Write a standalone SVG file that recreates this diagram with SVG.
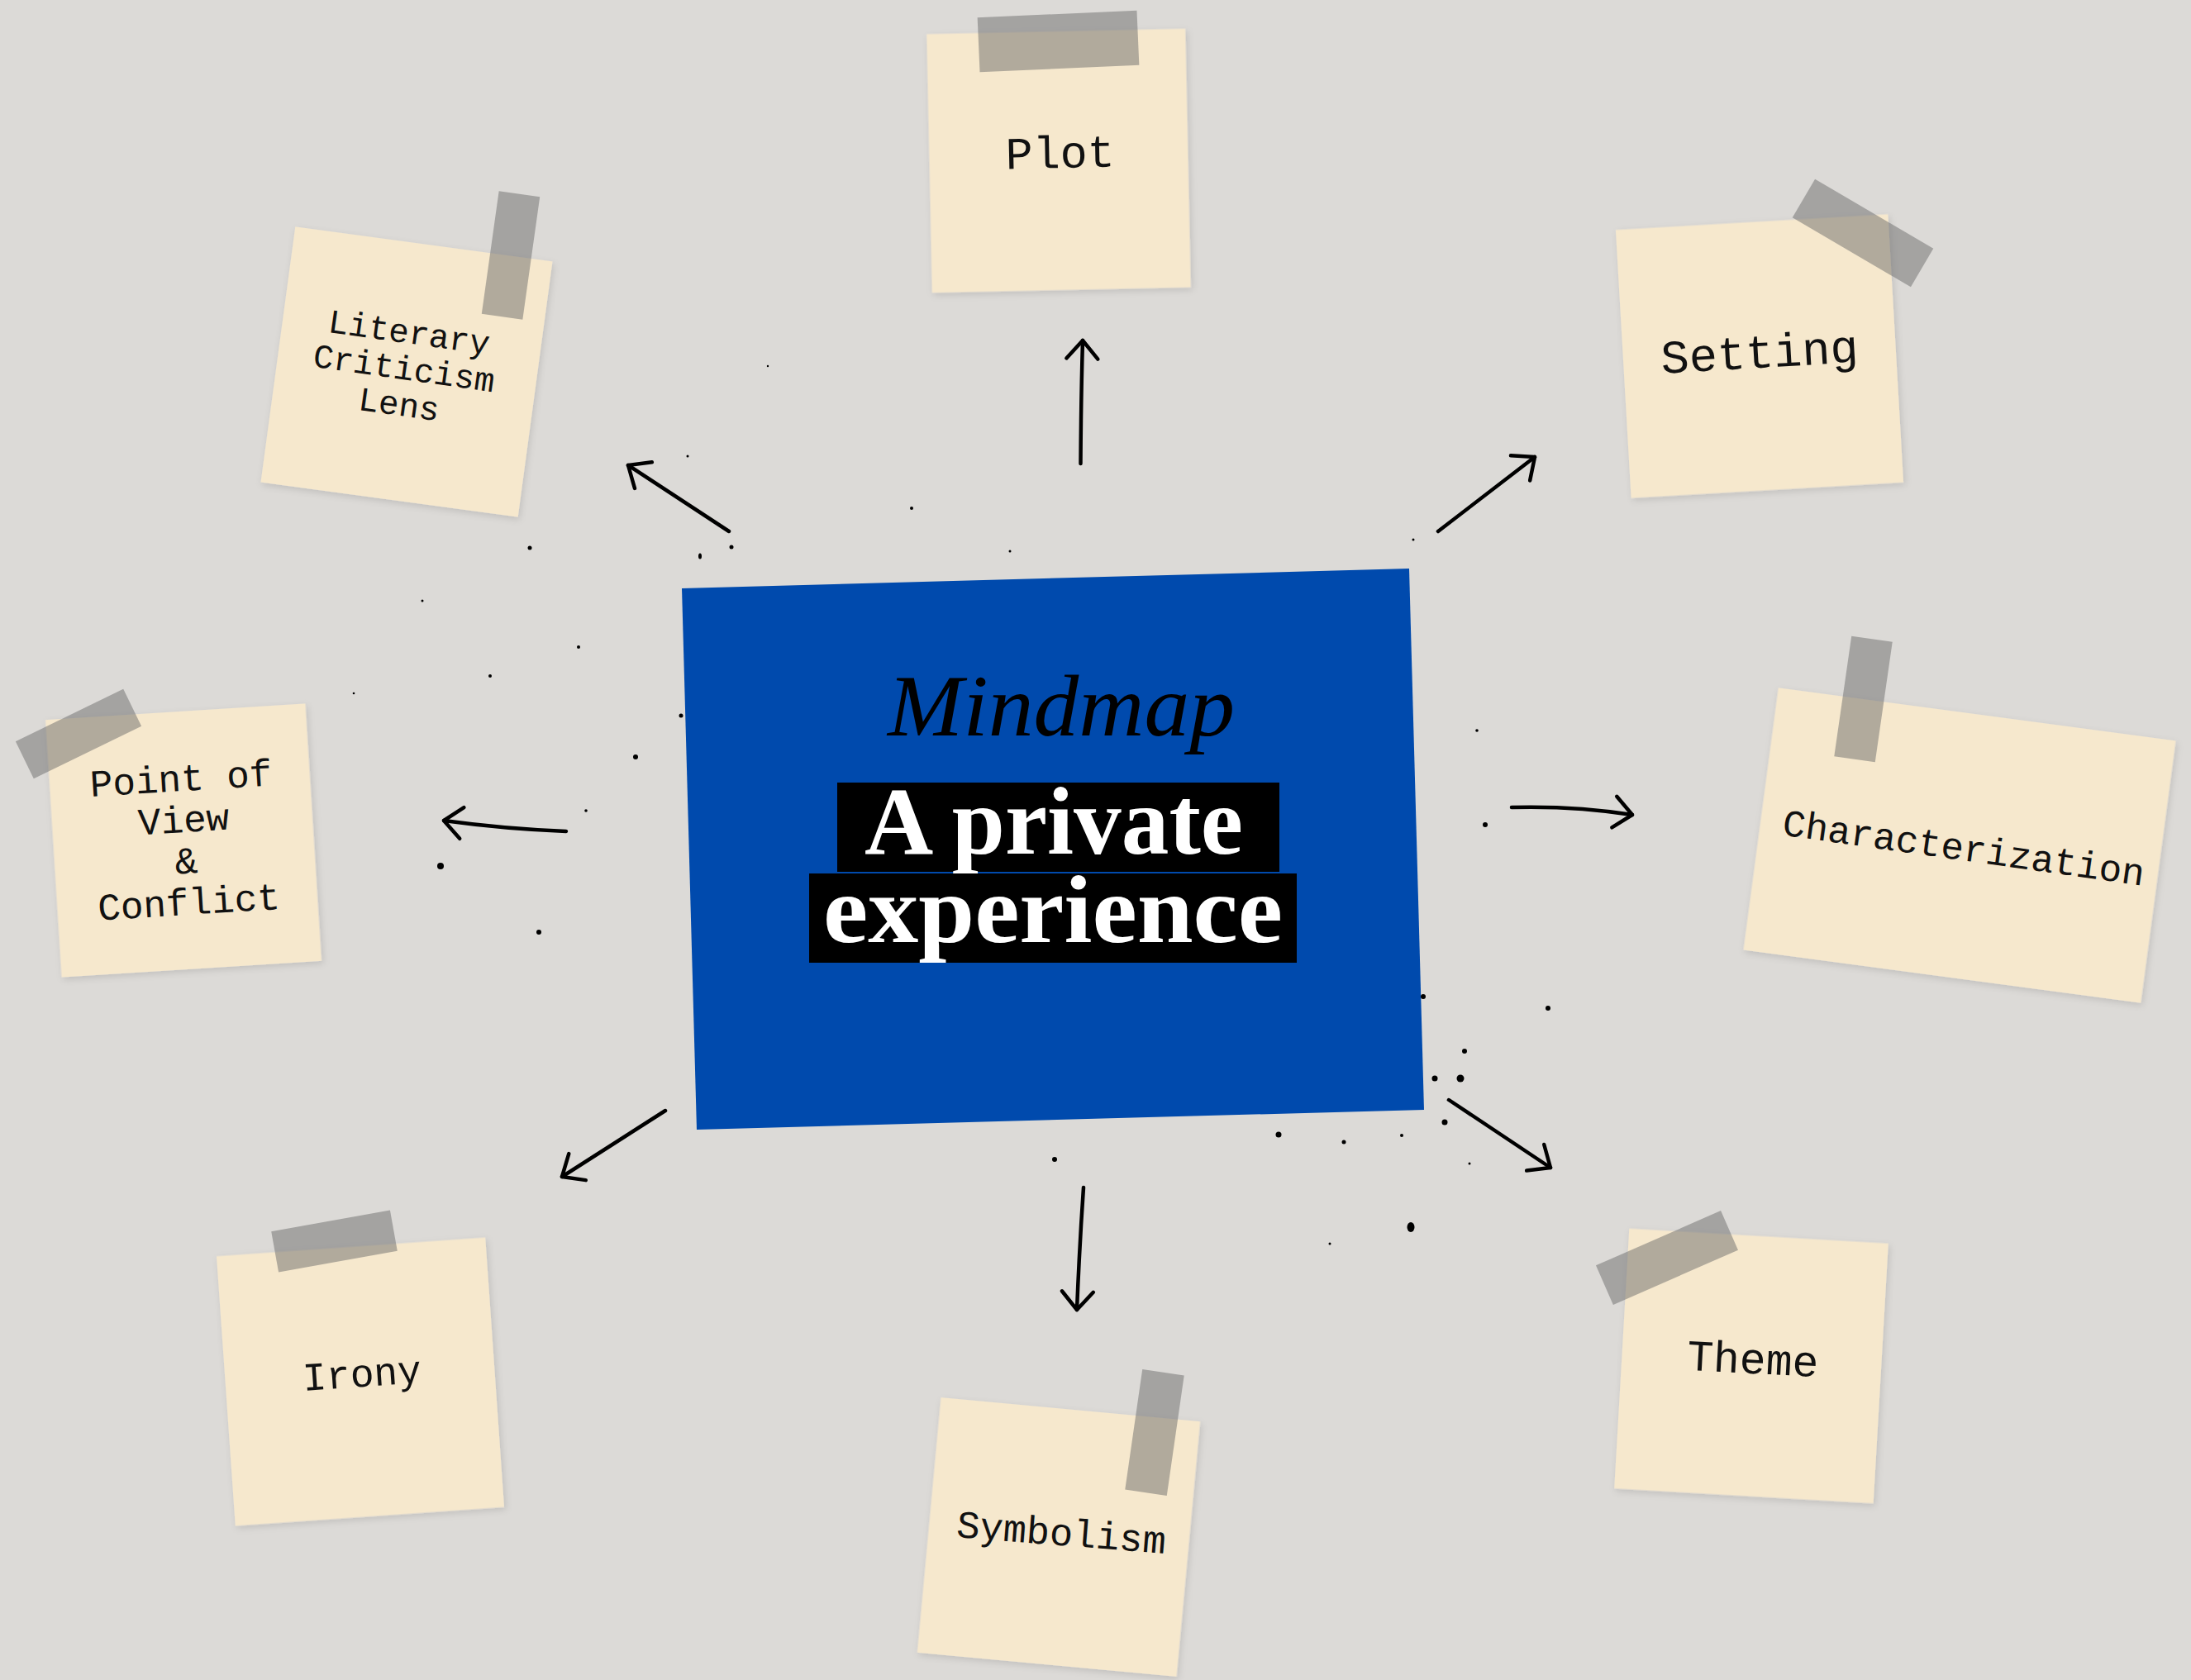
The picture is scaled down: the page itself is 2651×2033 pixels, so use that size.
<svg xmlns="http://www.w3.org/2000/svg" width="2651" height="2033" viewBox="0 0 2651 2033">
<style>
.bg{fill:#dcdad7}
.note{fill:#f6e8cd;filter:url(#sh)}
.tape{fill:#6b6b6b;fill-opacity:.5}
.lbl{font-family:"Liberation Mono","Courier New",monospace;fill:#111;text-anchor:middle}
.arrow{fill:none;stroke:#000;stroke-width:4.5;stroke-linecap:round;stroke-linejoin:round;marker-end:url(#head)}
.dot{fill:#000}
.title{font-family:"Liberation Serif","Times New Roman",serif;font-weight:bold;fill:#fff;text-anchor:middle}
</style>
<defs>
<filter id="sh" x="-10%" y="-10%" width="120%" height="120%">
<feDropShadow dx="2" dy="3" stdDeviation="4" flood-color="#000" flood-opacity="0.12"/>
</filter>
<marker id="head" markerUnits="userSpaceOnUse" viewBox="-28 -24 32 48" refX="0" refY="0" markerWidth="32" markerHeight="48" orient="auto" overflow="visible">
<path d="M -22 -19 L 0 0 L -22 19" fill="none" stroke="#000" stroke-width="4.5" stroke-linecap="round" stroke-linejoin="round"/>
</marker>
</defs>
<rect class="bg" x="0" y="0" width="2651" height="2033"/>

<g id="center">
<polygon fill="#004aad" points="825,712 1705,688 1723,1343 843,1367"/>
<text x="1284" y="890" font-family="Liberation Serif, serif" font-style="italic" font-size="105" fill="#000" text-anchor="middle" textLength="420" lengthAdjust="spacingAndGlyphs">Mindmap</text>
<rect x="1013" y="947" width="535" height="108" fill="#000"/>
<text class="title" x="1275" y="1033" font-size="117" textLength="458" lengthAdjust="spacingAndGlyphs">A private</text>
<rect x="979" y="1057" width="590" height="108" fill="#000"/>
<text class="title" x="1274" y="1140" font-size="117" textLength="556" lengthAdjust="spacingAndGlyphs">experience</text>
</g>

<g id="plot">
<rect class="note" x="-156.5" y="-156.5" width="313" height="313" transform="translate(1281 194.5) rotate(-1.2)"/>
<rect class="tape" x="-96" y="-33" width="193" height="66" transform="translate(1280 50) rotate(-2.5)"/>
<text class="lbl" font-size="55" transform="translate(1283 203) rotate(-1.2)">Plot</text>
</g>

<g id="literary">
<rect class="note" x="-157" y="-156" width="314" height="312" transform="translate(492 450) rotate(7.7)"/>
<rect class="tape" x="-25" y="-75" width="50" height="150" transform="translate(618 309) rotate(8)"/>
<g transform="translate(488 452) rotate(8)">
<text class="lbl" font-size="41" x="0" y="-37">Literary</text>
<text class="lbl" font-size="41" x="0" y="7">Criticism</text>
<text class="lbl" font-size="41" x="0" y="51">Lens</text>
</g>
</g>

<g id="setting">
<rect class="note" x="-165" y="-162.5" width="330" height="325" transform="translate(2129 431) rotate(-3.3)"/>
<rect class="tape" x="-83" y="-27" width="166" height="54" transform="translate(2254 282) rotate(30.4)"/>
<text class="lbl" font-size="57" transform="translate(2130 445) rotate(-3.3)">Setting</text>
</g>

<g id="characterization">
<rect class="note" x="-242.5" y="-160" width="485" height="320" transform="translate(2371 1023) rotate(7.6)"/>
<rect class="tape" x="-25" y="-73.5" width="50" height="147" transform="translate(2254.5 846) rotate(8.2)"/>
<text class="lbl" font-size="46" transform="translate(2374 1041) rotate(8)">Characterization</text>
</g>

<g id="point-of-view">
<rect class="note" x="-157.5" y="-156" width="315" height="312" transform="translate(222 1017) rotate(-3.6)"/>
<rect class="tape" x="-72.5" y="-25" width="145" height="50" transform="translate(95 888) rotate(-26)"/>
<g transform="translate(224 1022) rotate(-3.6)">
<text class="lbl" font-size="46" x="0" y="-65">Point of</text>
<text class="lbl" font-size="46" x="0" y="-15">View</text>
<text class="lbl" font-size="46" x="0" y="35">&amp;</text>
<text class="lbl" font-size="46" x="0" y="85">Conflict</text>
</g>
</g>

<g id="irony">
<rect class="note" x="-163" y="-163.5" width="326" height="327" transform="translate(436 1672) rotate(-4)"/>
<rect class="tape" x="-73" y="-25" width="146" height="50" transform="translate(404.5 1502) rotate(-10.2)"/>
<text class="lbl" font-size="48" transform="translate(439 1678) rotate(-4)">Irony</text>
</g>

<g id="symbolism">
<rect class="note" x="-157.5" y="-155" width="315" height="310" transform="translate(1281 1860) rotate(5.3)"/>
<rect class="tape" x="-25.5" y="-73.5" width="51" height="147" transform="translate(1397 1733.5) rotate(8.2)"/>
<text class="lbl" font-size="47" transform="translate(1283 1870) rotate(4.5)">Symbolism</text>
</g>

<g id="theme">
<rect class="note" x="-157" y="-157.5" width="314" height="315" transform="translate(2119 1653) rotate(3.3)"/>
<rect class="tape" x="-82.5" y="-26" width="165" height="52" transform="translate(2017 1522) rotate(-23.7)"/>
<text class="lbl" font-size="53" transform="translate(2120 1662) rotate(3)">Theme</text>
</g>

<g id="connectors">
<path class="arrow" d="M 1307.5 561 Q 1308 480 1310 412"/>
<path class="arrow" d="M 882 643 L 760 563"/>
<path class="arrow" d="M 1740 643 L 1857 553"/>
<path class="arrow" d="M 1829 977 Q 1905 975 1975 986"/>
<path class="arrow" d="M 685 1006 Q 610 1003 537 993"/>
<path class="arrow" d="M 805 1344 L 680 1424"/>
<path class="arrow" d="M 1311 1437 Q 1306 1510 1303 1585"/>
<path class="arrow" d="M 1753 1331 L 1876 1413"/>
</g>

<g id="splatter">
<circle class="dot" cx="929" cy="443" r="1.2"/>
<circle class="dot" cx="832" cy="552" r="1.5"/>
<circle class="dot" cx="1103" cy="615" r="2"/>
<circle class="dot" cx="885" cy="662" r="2.5"/>
<ellipse class="dot" cx="847" cy="673" rx="2" ry="3.5"/>
<circle class="dot" cx="641" cy="663" r="2.5"/>
<circle class="dot" cx="1222" cy="667" r="1.5"/>
<circle class="dot" cx="1710" cy="653" r="1.5"/>
<circle class="dot" cx="511" cy="727" r="1.5"/>
<circle class="dot" cx="700" cy="783" r="2"/>
<circle class="dot" cx="593" cy="818" r="2"/>
<circle class="dot" cx="428" cy="839" r="1.3"/>
<circle class="dot" cx="824" cy="866" r="2.5"/>
<circle class="dot" cx="769" cy="916" r="3"/>
<circle class="dot" cx="709" cy="981" r="1.8"/>
<circle class="dot" cx="1787" cy="884" r="1.8"/>
<circle class="dot" cx="1797" cy="998" r="3"/>
<circle class="dot" cx="533" cy="1048" r="4"/>
<circle class="dot" cx="652" cy="1128" r="3"/>
<circle class="dot" cx="1722" cy="1206" r="3"/>
<circle class="dot" cx="1873" cy="1220" r="3"/>
<circle class="dot" cx="1772" cy="1272" r="3"/>
<circle class="dot" cx="1736" cy="1305" r="3.5"/>
<circle class="dot" cx="1767" cy="1305" r="4.5"/>
<circle class="dot" cx="1748" cy="1358" r="3.5"/>
<circle class="dot" cx="1547" cy="1373" r="3.5"/>
<circle class="dot" cx="1626" cy="1382" r="2.5"/>
<circle class="dot" cx="1696" cy="1374" r="2"/>
<circle class="dot" cx="1778" cy="1408" r="1.5"/>
<circle class="dot" cx="1276" cy="1403" r="3"/>
<ellipse class="dot" cx="1707" cy="1485" rx="4.5" ry="6"/>
<circle class="dot" cx="1609" cy="1505" r="1.5"/>
</g>
</svg>
